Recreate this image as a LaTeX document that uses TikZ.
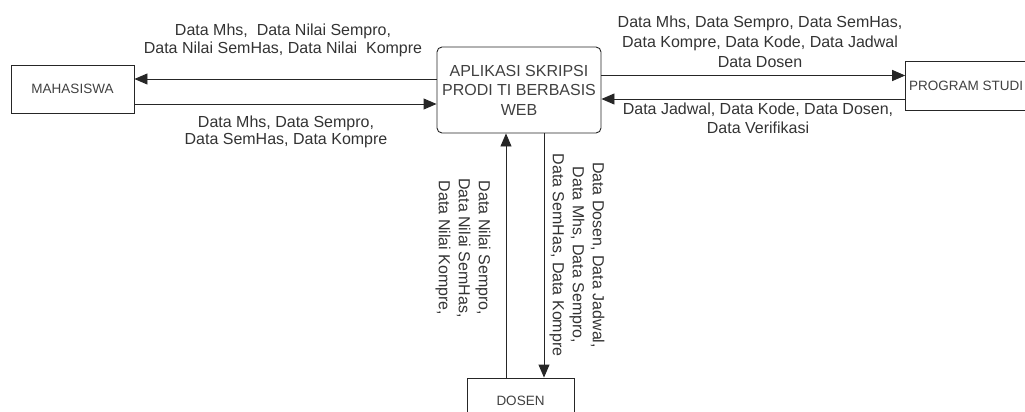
\documentclass[tikz,border=0pt]{standalone}
\usepackage{fontspec}
\setmainfont{Liberation Sans}
\usetikzlibrary{arrows.meta}
\tikzset{
  entity/.style={draw=black!85,line width=0.9pt,minimum width=123pt,minimum height=48pt,font=\fontsize{13.5}{16}\selectfont,text=black!75},
  flow/.style={-{Triangle[length=13pt,width=11pt]},line width=0.9pt,draw=black!85},
  lbl/.style={align=center,inner sep=0pt,font=\fontsize{16}{17.5}\selectfont,text=black!80},
}
\begin{document}
\begin{tikzpicture}[x=1pt,y=-1pt]
\useasboundingbox (0,0) rectangle (1025,412);
\node[entity] (mhs) at (72.5,89) {MAHASISWA};
\node[entity,rounded corners=5pt,minimum width=164pt,minimum height=86pt,font=\fontsize{16}{19.5}\selectfont,align=center] (app) at (519,90) {APLIKASI SKRIPSI\\PRODI TI BERBASIS\\WEB};
\node[entity,minimum width=120pt,minimum height=49pt] (prodi) at (966,85.5) {PROGRAM STUDI};
\node[entity,minimum width=107pt,minimum height=46pt] (dosen) at (520.5,401) {DOSEN};
\draw[flow] ([yshift=11pt]app.west) -- ([yshift=11pt]app.west -| mhs.east);
\draw[flow] ([yshift=-14pt]app.west -| mhs.east) -- ([yshift=-14pt]app.west);
\draw[flow] ([yshift=14.5pt]app.east) -- ([yshift=14.5pt]app.east -| prodi.west);
\draw[flow] ([yshift=-9pt]app.east -| prodi.west) -- ([yshift=-9pt]app.east);
\draw[flow] ([xshift=-13pt]app.south |- dosen.north) -- ([xshift=-13pt]app.south);
\draw[flow] ([xshift=25pt]app.south) -- ([xshift=25pt]app.south |- dosen.north);
\node[lbl] (mhsout) at (283,40.5) {Data Mhs,\ \ Data Nilai Sempro,\\Data Nilai SemHas, Data Nilai\ \ Kompre};
\node[lbl] (mhsin) at (286,132) {Data Mhs, Data Sempro,\\Data SemHas, Data Kompre};
\node[lbl,font=\fontsize{16}{20}\selectfont] (prodiout) at (760,41.7) {Data Mhs, Data Sempro, Data SemHas,\\Data Kompre, Data Kode, Data Jadwal\\Data Dosen};
\node[lbl,font=\fontsize{16}{19.5}\selectfont] (prodiin) at (758,118.5) {Data Jadwal, Data Kode, Data Dosen,\\Data Verifikasi};
\node[lbl,rotate=-90,font=\fontsize{16}{20}\selectfont] (dosenin) at (463,248) {Data Nilai Sempro,\\Data Nilai SemHas,\\Data Nilai Kompre,};
\node[lbl,rotate=-90,font=\fontsize{16}{20}\selectfont] (dosenout) at (577,255) {Data Dosen, Data Jadwal,\\Data Mhs, Data Sempro,\\Data SemHas, Data Kompre};
\end{tikzpicture}
\end{document}
